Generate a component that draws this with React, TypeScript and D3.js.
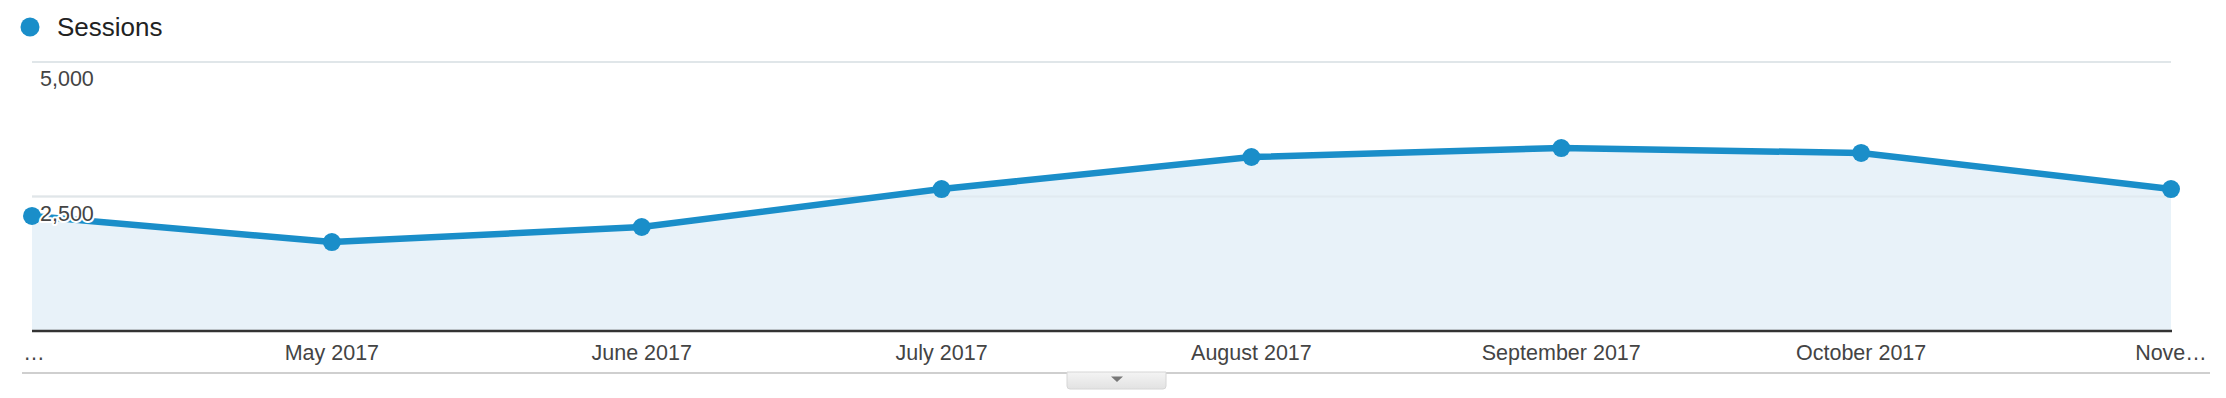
import React from "react";
import * as d3 from "d3";

const months = ["2017-04-01", "2017-05-01", "2017-06-01", "2017-07-01", "2017-08-01", "2017-09-01", "2017-10-01", "2017-11-01"];
const xLabels = ["…", "May 2017", "June 2017", "July 2017", "August 2017", "September 2017", "October 2017", "Nove…"];
const sessions = [2138, 1654, 1933, 2639, 3234, 3401, 3309, 2639];
const yTicks = [2500, 5000];
const seriesName = "Sessions";

const W = 2226;
const H = 398;
const LINE = "#1a8ec9";
const FILL = "#e8f2f9";
const FONT = "Arial, 'Liberation Sans', Helvetica, sans-serif";

export default function App() {
  const parse = d3.utcParse("%Y-%m-%d");
  const dates = months.map((m) => parse(m) as Date);
  const x = d3.scaleUtc().domain([dates[0], dates[dates.length - 1]]).range([32, 2171]);
  const y = d3.scaleLinear().domain([0, 5000]).range([331, 62]);

  const line = d3
    .line<number>()
    .x((_, i) => x(dates[i]))
    .y((d) => y(d));
  const area = d3
    .area<number>()
    .x((_, i) => x(dates[i]))
    .y0(y(0))
    .y1((d) => y(d));

  const fmt = d3.format(",");
  const x0 = x(dates[0]);
  const x1 = x(dates[dates.length - 1]);

  return (
    <svg
      width={W}
      height={H}
      style={{ position: "absolute", left: 0, top: 0, background: "#fff" }}
      fontFamily={FONT}
    >
      <defs>
        <linearGradient id="btn" x1="0" y1="0" x2="0" y2="1">
          <stop offset="0" stopColor="#f4f4f4" />
          <stop offset="1" stopColor="#e2e2e2" />
        </linearGradient>
      </defs>

      {/* legend */}
      <circle cx={30} cy={27} r={9.5} fill={LINE} />
      <text x={57} y={36} fontSize={26} fill="#222">
        {seriesName}
      </text>

      {/* grid lines */}
      {yTicks.map((t) => (
        <line key={t} x1={x0} x2={x1} y1={y(t)} y2={y(t)} stroke="#e6e6e6" strokeWidth={2} />
      ))}

      {/* area + line */}
      <path d={area(sessions) || ""} fill={FILL} />
      {yTicks.map((t) => (
        <line key={"g" + t} x1={x0} x2={x1} y1={y(t)} y2={y(t)} stroke="#dde6ec" strokeWidth={2} opacity={0.6} />
      ))}
      <path d={line(sessions) || ""} fill="none" stroke={LINE} strokeWidth={6.5} strokeLinejoin="round" />
      {sessions.map((v, i) => (
        <circle key={i} cx={x(dates[i])} cy={y(v)} r={9} fill={LINE} />
      ))}

      {/* x axis line */}
      <line x1={x0} x2={x1 + 1} y1={y(0)} y2={y(0)} stroke="#333" strokeWidth={2.5} />

      {/* y labels */}
      {yTicks.map((t) => (
        <text
          key={"l" + t}
          x={40}
          y={y(t) + 24}
          fontSize={21.5}
          fill="#444"
          stroke="#fff"
          strokeWidth={4}
          strokeLinejoin="round"
          paintOrder="stroke"
        >
          {fmt(t)}
        </text>
      ))}

      {/* x labels */}
      {dates.map((d, i) => (
        <text
          key={months[i]}
          x={i === 0 ? 34 : x(d)}
          y={360}
          fontSize={21.5}
          fill="#444"
          textAnchor="middle"
        >
          {xLabels[i]}
        </text>
      ))}

      {/* bottom separator */}
      <line x1={22} x2={2210} y1={373} y2={373} stroke="#cfcfcf" strokeWidth={2} />
      <path
        d="M1067,372 L1166,372 L1166,386 Q1166,389 1163,389 L1070,389 Q1067,389 1067,386 Z"
        fill="url(#btn)"
        stroke="#d6d6d6"
        strokeWidth={1}
      />
      <path d="M1111,376.5 L1123,376.5 L1117,382 Z" fill="#777" />
    </svg>
  );
}
